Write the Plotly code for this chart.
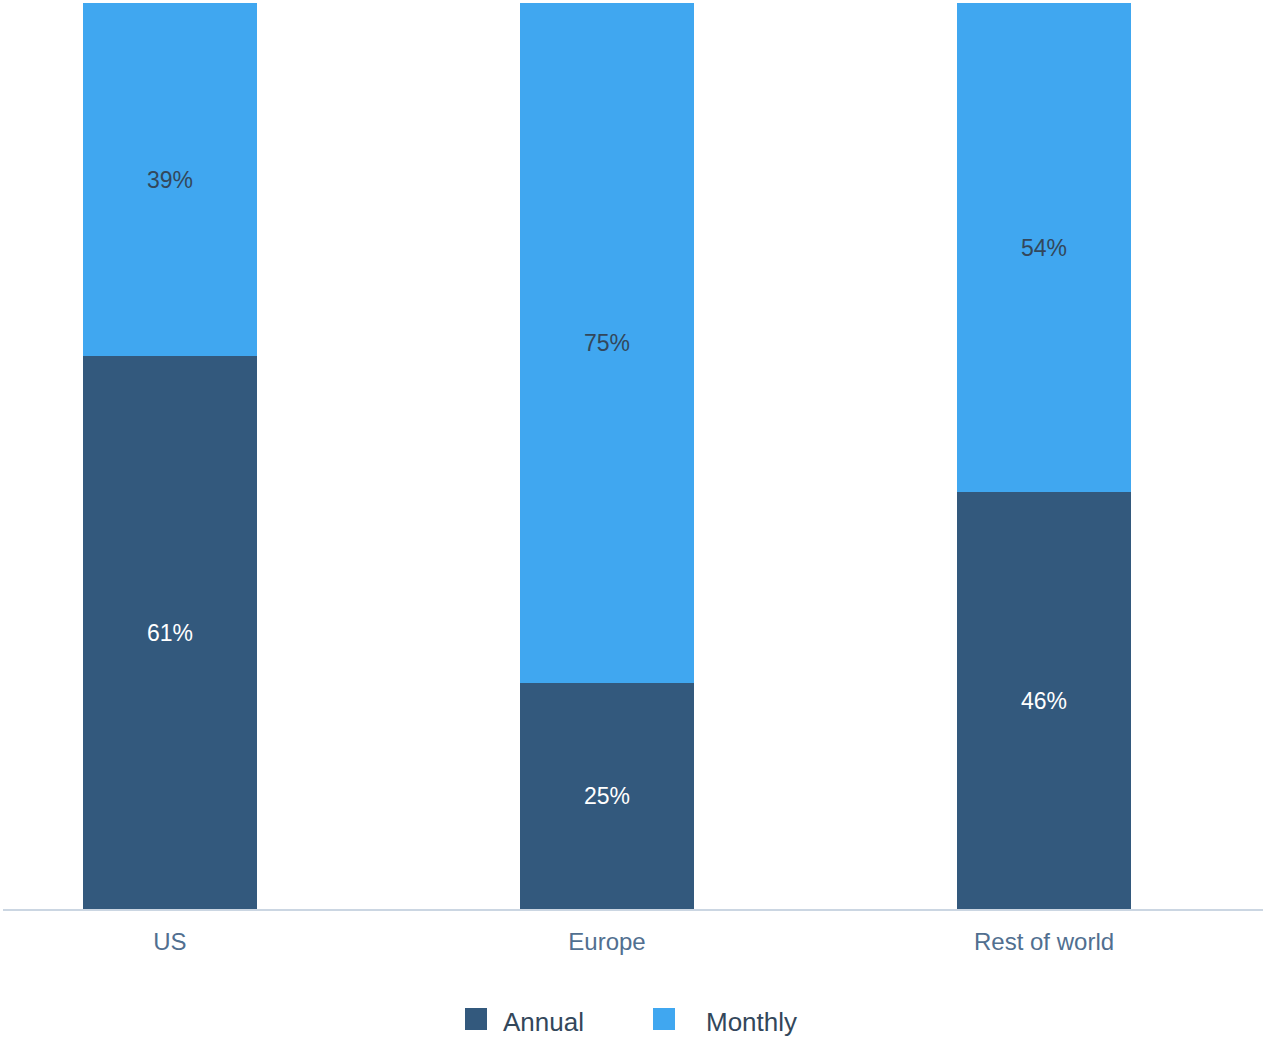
import plotly.graph_objects as go

# Billing plan split by region (percent of customers)
regions = ["US", "Europe", "Rest of world"]
series_names = ["Annual", "Monthly"]
annual = [61, 25, 46]
monthly = [39, 75, 54]

colors = {"Annual": "#33597d", "Monthly": "#40a7f0"}
label_colors = {"Annual": "#ffffff", "Monthly": "#33475b"}
FONT = "Liberation Sans, Arial, Helvetica, sans-serif"

fig = go.Figure()
for name, vals in zip(series_names, [annual, monthly]):
    fig.add_trace(go.Bar(
        name=name,
        x=regions,
        y=vals,
        width=0.4,
        marker=dict(color=colors[name], line=dict(width=0)),
        text=[f"{v}%" for v in vals],
        textposition="inside",
        insidetextanchor="middle",
        textangle=0,
        textfont=dict(family=FONT, size=23, color=label_colors[name]),
        showlegend=False,
        hoverinfo="skip",
    ))

W, H = 1263, 1040
ml, mr, mt, mb = 3, 0, 3, 131
pw, ph = W - ml - mr, H - mt - mb


def px_to_paper(px, py):
    return (px - ml) / pw, (H - mb - py) / ph


# Legend: square swatch + label per series
shapes, annotations = [], []
legend_items = [(series_names[0], 465, 501), (series_names[1], 653, 704)]
for name, sx, tx in legend_items:
    x0, y0 = px_to_paper(sx, 1030)
    x1, y1 = px_to_paper(sx + 22, 1008)
    shapes.append(dict(type="rect", xref="paper", yref="paper",
                       x0=x0, x1=x1, y0=y0, y1=y1,
                       fillcolor=colors[name], line=dict(width=0)))
    ax, ay = px_to_paper(tx, 1022)
    annotations.append(dict(text=name, xref="paper", yref="paper",
                            x=ax, y=ay, xanchor="left", yanchor="middle",
                            showarrow=False,
                            font=dict(family=FONT, size=26, color="#33475b")))

fig.update_layout(
    width=W, height=H,
    margin=dict(l=ml, r=mr, t=mt, b=mb),
    barmode="stack",
    plot_bgcolor="#ffffff",
    paper_bgcolor="#ffffff",
    shapes=shapes,
    annotations=annotations,
    uniformtext=dict(mode=False),
)
fig.update_xaxes(
    range=[-0.382, 2.501],
    showline=True, linecolor="#cbd6e2", linewidth=2,
    showgrid=False, zeroline=False,
    ticks="outside", ticklen=10, tickcolor="rgba(0,0,0,0)",
    tickfont=dict(family=FONT, size=24, color="#516f90"),
)
fig.update_yaxes(range=[0, 100], visible=False, showgrid=False)

fig.write_html("out.html")
